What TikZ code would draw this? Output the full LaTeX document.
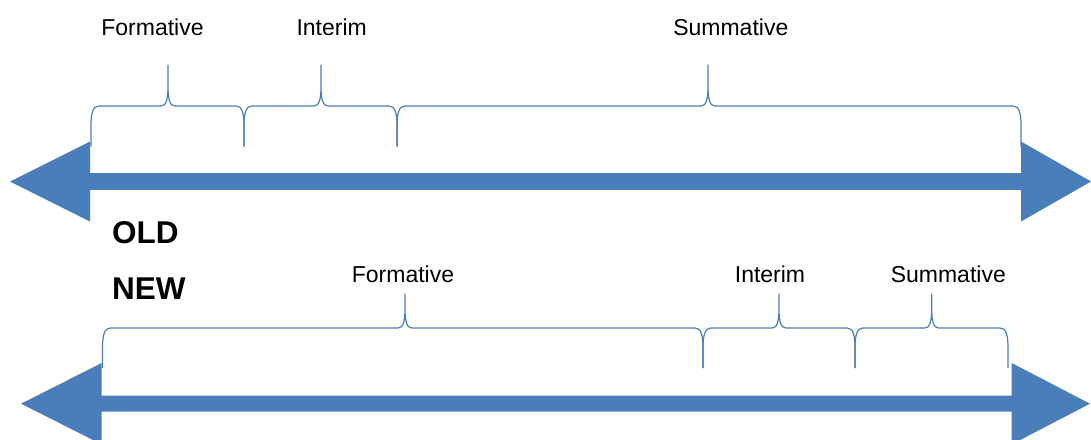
\documentclass[tikz,border=0pt]{standalone}
\usepackage{fontspec}
\setmainfont{Liberation Sans}
\definecolor{arrowblue}{HTML}{4A7EBB}
\newcommand{\curlybr}[6]{% xa, xm, xb, yline, yend, ytip
  \draw[bracestyle] (#1,#5) -- (#1,#4+20)
    .. controls (#1,#4+7) and (#1+2,#4) .. (#1+8,#4)
    -- (#2-7,#4)
    .. controls (#2-2,#4) and (#2,#4-6) .. (#2,#4-20)
    -- (#2,#6) -- (#2,#4-20)
    .. controls (#2,#4-6) and (#2+2,#4) .. (#2+7,#4)
    -- (#3-8,#4)
    .. controls (#3-2,#4) and (#3,#4+7) .. (#3,#4+20)
    -- (#3,#5);}
\tikzset{
  bracestyle/.style={draw=arrowblue, line width=1.2pt, line join=round},
  timeline/.style={fill=arrowblue, draw=none},
  lbl/.style={anchor=base, inner sep=0pt, font=\fontsize{23}{27}\selectfont},
  bigtag/.style={anchor=base west, inner sep=0pt, font=\fontsize{31.5}{36}\selectfont\bfseries}
}
\begin{document}
\begin{tikzpicture}[x=1pt,y=-1pt]
\useasboundingbox (0,0) rectangle (1091,439);
% OLD timeline
\fill[timeline] (10,181.5) -- (90,141.5) -- (90,173.2) -- (1021,173.2) -- (1021,141.5)
  -- (1091,181.5) -- (1021,221.5) -- (1021,189.8) -- (90,189.8) -- (90,221.5) -- cycle;
\curlybr{91}{168}{244}{106}{146.5}{65}
\curlybr{244}{321}{397}{106}{146.5}{65}
\curlybr{397}{708}{1021}{106}{146.5}{65}
\node[lbl] (formOld) at (152.5,35.7) {Formative};
\node[lbl] (intOld) at (331.7,35.7) {Interim};
\node[lbl] (sumOld) at (730.8,35.7) {Summative};
\node[bigtag] (old) at (112,243.3) {OLD};
\node[bigtag] (new) at (112,299.5) {NEW};
% NEW timeline
\fill[timeline] (21,403.7) -- (101.7,363) -- (101.7,395.7) -- (1011.7,395.7) -- (1011.7,363)
  -- (1090,403.7) -- (1011.7,444.4) -- (1011.7,411.7) -- (101.7,411.7) -- (101.7,444.4) -- cycle;
\curlybr{102.5}{405}{703}{328}{368}{294}
\curlybr{703}{779}{855}{328}{368}{294}
\curlybr{855}{931.7}{1008}{328}{368}{294}
\node[lbl] (formNew) at (403,282) {Formative};
\node[lbl] (intNew) at (770,282) {Interim};
\node[lbl] (sumNew) at (948.3,282) {Summative};
\end{tikzpicture}
\end{document}
